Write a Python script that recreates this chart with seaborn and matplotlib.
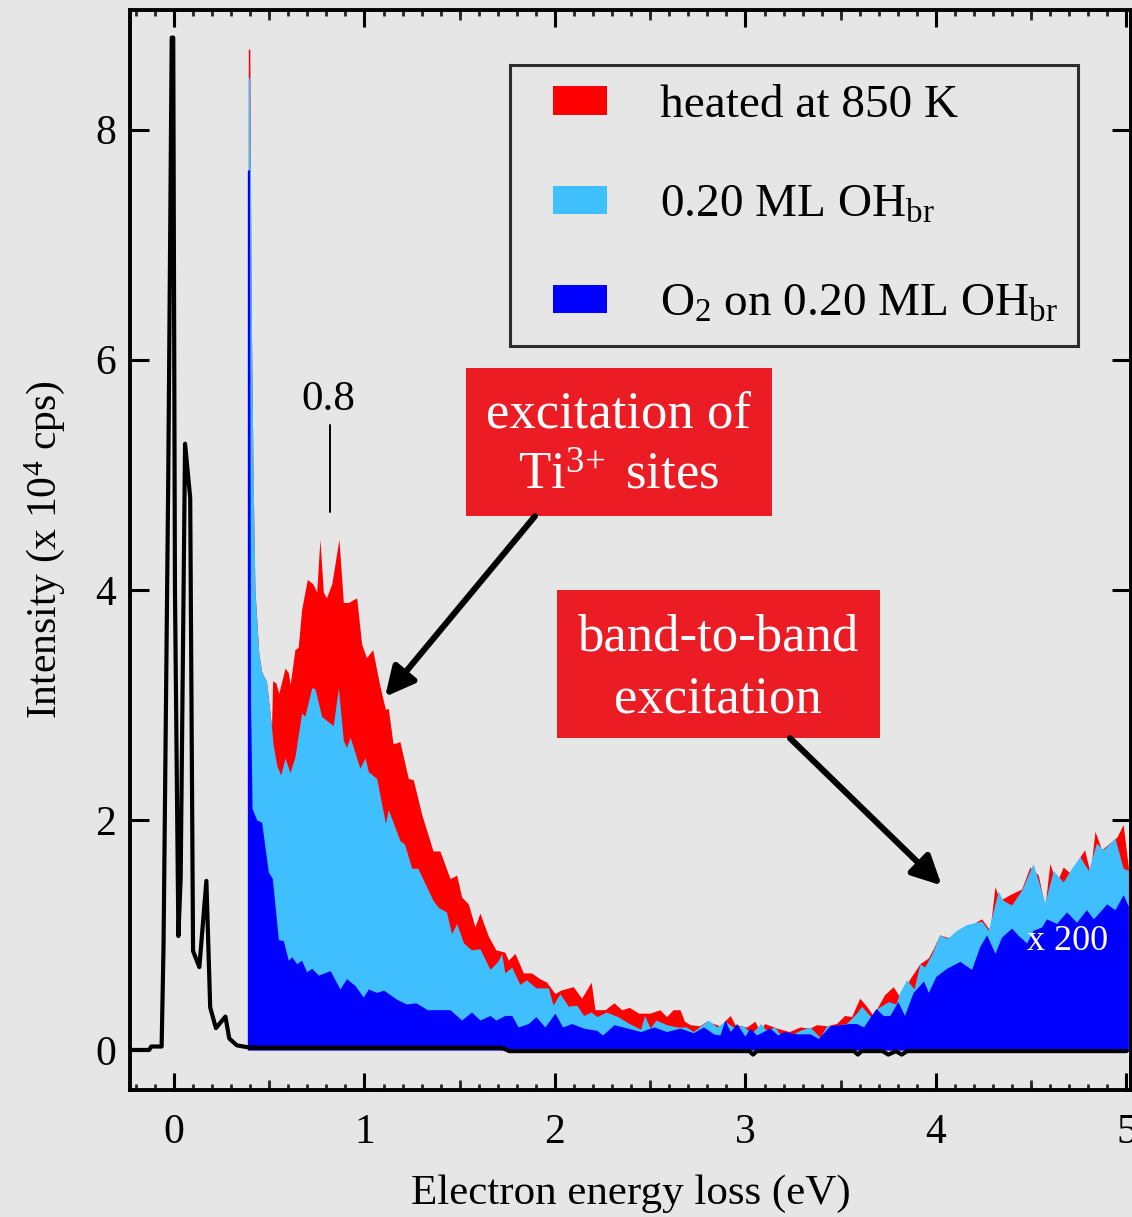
import numpy as np
import pandas as pd
import matplotlib
matplotlib.use("Agg")
import matplotlib.pyplot as plt
import seaborn as sns
from matplotlib.ticker import MultipleLocator, FixedLocator
from matplotlib.patches import Rectangle, Patch
from matplotlib.legend_handler import HandlerPatch

# ---------------- data ----------------
black_x = [-0.23, -0.13, -0.12, -0.065, -0.055, -0.03, -0.012, -0.004, 0.005, 0.023, 0.035,
           0.058, 0.085, 0.10, 0.133, 0.17, 0.19, 0.22, 0.27, 0.29, 0.33, 0.40,
           1.72, 1.76, 3.02, 3.04, 3.06, 3.57, 3.59, 3.61, 3.72, 3.75, 3.79, 3.82, 3.85, 4.98, 5.0]
black_y = [0.0, 0.0, 0.03, 0.03, 0.9, 5.0, 8.8, 8.8, 4.0, 0.99, 1.5,
           5.27, 4.8, 0.86, 0.72, 1.47, 0.37, 0.19, 0.29, 0.10, 0.04, 0.02,
           0.02, -0.01, -0.01, -0.04, -0.01, -0.01, -0.04, -0.01, -0.01, -0.04, -0.01, -0.04, -0.01, -0.01, -0.01]

heated_x = [0.39, 0.398, 0.405, 0.415, 0.425, 0.445, 0.46, 0.486, 0.512, 0.518, 0.535, 0.55, 0.583, 0.60,
            0.61, 0.635, 0.652, 0.67, 0.70, 0.73, 0.749, 0.766, 0.784, 0.80, 0.828, 0.866, 0.889, 0.915,
            0.959, 0.985, 1.01, 1.043, 1.08, 1.11, 1.125, 1.15, 1.186, 1.23, 1.256, 1.30, 1.36, 1.396,
            1.449, 1.484, 1.51, 1.545, 1.58, 1.606, 1.65, 1.69, 1.737, 1.755, 1.79, 1.834, 1.877, 1.92,
            1.956, 2.0, 2.03, 2.096, 2.14, 2.19, 2.21, 2.263, 2.31, 2.35, 2.39, 2.44, 2.50, 2.55, 2.586,
            2.62, 2.656, 2.68, 2.709, 2.76, 2.796, 2.866, 2.92, 2.945, 3.007, 3.05, 3.076, 3.10, 3.164,
            3.23, 3.286, 3.338, 3.373, 3.426, 3.478, 3.52, 3.557, 3.60, 3.636, 3.67, 3.73, 3.776, 3.81,
            3.864, 3.916, 3.96, 3.986, 4.02, 4.08, 4.126, 4.187, 4.24, 4.283, 4.31, 4.335, 4.388, 4.45,
            4.493, 4.537, 4.572, 4.598, 4.633, 4.668, 4.703, 4.73, 4.78, 4.81, 4.835, 4.87, 4.913, 4.95,
            4.983, 5.01]
heated_y = [8.70, 8.70, 6.5, 5.0, 4.0, 3.45, 3.29, 3.2, 2.81, 3.21, 3.19, 3.1, 3.32, 3.28,
            3.18, 3.48, 3.50, 3.83, 4.09, 4.05, 3.98, 4.44, 3.98, 3.93, 4.05, 4.44, 3.89, 3.89,
            3.93, 3.53, 3.41, 3.48, 3.17, 2.96, 2.97, 2.66, 2.68, 2.36, 2.35, 2.05, 1.73, 1.73,
            1.49, 1.52, 1.33, 1.27, 1.07, 1.19, 0.99, 0.87, 0.85, 0.78, 0.84, 0.67, 0.67, 0.62,
            0.59, 0.49, 0.52, 0.55, 0.45, 0.59, 0.35, 0.35, 0.41, 0.35, 0.37, 0.32, 0.32, 0.35, 0.29,
            0.35, 0.35, 0.25, 0.22, 0.21, 0.25, 0.21, 0.30, 0.22, 0.20, 0.25, 0.16, 0.23, 0.19,
            0.16, 0.20, 0.19, 0.22, 0.21, 0.23, 0.30, 0.29, 0.45, 0.38, 0.30, 0.48, 0.55, 0.46,
            0.62, 0.75, 0.80, 0.88, 1.0, 0.97, 1.04, 1.09, 1.14, 1.04, 1.42, 1.30, 1.35, 1.40,
            1.59, 1.52, 1.25, 1.62, 1.45, 1.59, 1.54, 1.61, 1.74, 1.54, 1.90, 1.74, 1.80, 1.85,
            1.96, 1.59]

oh_x = [0.39, 0.398, 0.405, 0.415, 0.425, 0.445, 0.46, 0.486, 0.512, 0.52, 0.54, 0.56, 0.583, 0.609,
        0.635, 0.67, 0.687, 0.723, 0.74, 0.775, 0.82, 0.836, 0.863, 0.889, 0.906, 0.924, 0.976, 1.003,
        1.02, 1.064, 1.11, 1.125, 1.186, 1.21, 1.248, 1.28, 1.36, 1.387, 1.43, 1.457, 1.484, 1.52,
        1.562, 1.606, 1.659, 1.70, 1.72, 1.737, 1.773, 1.816, 1.85, 1.90, 1.965, 1.99, 2.026, 2.07,
        2.114, 2.15, 2.19, 2.22, 2.27, 2.33, 2.39, 2.45, 2.47, 2.50, 2.53, 2.586, 2.64, 2.69, 2.726,
        2.805, 2.85, 2.892, 2.936, 2.99, 3.03, 3.08, 3.11, 3.155, 3.18, 3.25, 3.286, 3.339, 3.391,
        3.426, 3.46, 3.53, 3.583, 3.61, 3.662, 3.70, 3.75, 3.79, 3.81, 3.846, 3.885, 3.916, 3.94,
        3.977, 4.02, 4.06, 4.108, 4.16, 4.24, 4.275, 4.327, 4.353, 4.397, 4.45, 4.51, 4.572, 4.616,
        4.668, 4.712, 4.756, 4.80, 4.843, 4.878, 4.94, 4.983, 5.01]
oh_y = [8.45, 8.45, 6.5, 5.0, 4.0, 3.45, 3.29, 3.2, 2.81, 2.66, 2.47, 2.39, 2.54, 2.41,
        2.55, 2.93, 2.90, 3.15, 3.14, 2.90, 2.84, 2.82, 3.15, 2.69, 2.63, 2.72, 2.45, 2.54,
        2.42, 2.36, 1.97, 2.09, 1.82, 1.79, 1.58, 1.58, 1.30, 1.24, 1.20, 1.01, 1.10, 0.93,
        0.87, 0.88, 0.70, 0.77, 0.84, 0.67, 0.72, 0.57, 0.61, 0.54, 0.54, 0.39, 0.49, 0.38,
        0.39, 0.30, 0.33, 0.29, 0.33, 0.29, 0.23, 0.18, 0.30, 0.19, 0.26, 0.22, 0.20, 0.20, 0.16,
        0.26, 0.20, 0.25, 0.20, 0.21, 0.14, 0.23, 0.17, 0.20, 0.14, 0.14, 0.17, 0.20, 0.11,
        0.21, 0.21, 0.23, 0.32, 0.38, 0.28, 0.37, 0.42, 0.40, 0.50, 0.61, 0.53, 0.75, 0.72,
        0.83, 1.0, 0.97, 1.04, 1.09, 1.12, 1.04, 1.38, 1.30, 1.26, 1.39, 1.62, 1.28, 1.56,
        1.46, 1.58, 1.68, 1.56, 1.80, 1.74, 1.84, 1.58, 1.56]

o2_x = [0.385, 0.396, 0.402, 0.41, 0.434, 0.46, 0.495, 0.516, 0.548, 0.574, 0.60, 0.618, 0.644, 0.67,
        0.696, 0.723, 0.758, 0.82, 0.871, 0.906, 0.95, 0.994, 1.02, 1.064, 1.10, 1.17, 1.22, 1.27,
        1.33, 1.396, 1.449, 1.51, 1.562, 1.606, 1.659, 1.69, 1.737, 1.773, 1.807, 1.86, 1.90, 1.947,
        2.0, 2.04, 2.088, 2.15, 2.22, 2.25, 2.31, 2.38, 2.45, 2.52, 2.586, 2.656, 2.726, 2.78, 2.832,
        2.866, 2.892, 2.92, 2.954, 2.997, 3.024, 3.058, 3.128, 3.17, 3.20, 3.27, 3.339, 3.383, 3.443,
        3.496, 3.548, 3.583, 3.62, 3.685, 3.723, 3.758, 3.80, 3.835, 3.88, 3.935, 3.96, 4.0, 4.056,
        4.126, 4.187, 4.23, 4.266, 4.31, 4.344, 4.397, 4.43, 4.476, 4.51, 4.555, 4.58, 4.633, 4.686,
        4.738, 4.79, 4.826, 4.86, 4.896, 4.94, 4.983, 5.01]
o2_y = [7.65, 7.65, 3.0, 2.1, 2.0, 1.98, 1.55, 1.49, 0.96, 0.95, 0.78, 0.81, 0.75, 0.78,
        0.68, 0.71, 0.65, 0.69, 0.53, 0.62, 0.56, 0.46, 0.53, 0.50, 0.52, 0.44, 0.40, 0.41,
        0.35, 0.35, 0.35, 0.26, 0.33, 0.26, 0.30, 0.26, 0.30, 0.30, 0.20, 0.23, 0.29, 0.20,
        0.32, 0.20, 0.23, 0.19, 0.17, 0.13, 0.22, 0.19, 0.16, 0.20, 0.16, 0.19, 0.15, 0.20, 0.14,
        0.13, 0.26, 0.16, 0.23, 0.12, 0.19, 0.13, 0.19, 0.13, 0.16, 0.14, 0.14, 0.10, 0.21,
        0.22, 0.23, 0.23, 0.20, 0.36, 0.30, 0.30, 0.42, 0.30, 0.50, 0.60, 0.50, 0.64, 0.71,
        0.77, 0.70, 0.90, 1.0, 0.84, 0.98, 1.06, 1.0, 0.93, 1.04, 1.07, 1.14, 1.10, 1.20,
        1.11, 1.22, 1.14, 1.20, 1.27, 1.22, 1.35, 1.25]

series_labels = ["heated at 850 K", r"0.20 ML OH$_{\mathrm{br}}$", r"O$_2$ on 0.20 ML OH$_{\mathrm{br}}$"]
xticks = [0, 1, 2, 3, 4, 5]
yticks = [0, 2, 4, 6, 8]

# ---------------- style ----------------
BG = "#e6e6e6"
RED = "#ff0000"
LBLUE = "#40bfff"
BLUE = "#0000ff"
BOXRED = "#ec1c24"

sns.set_theme(style="ticks")
plt.rcParams['font.family'] = ['Liberation Serif', 'DejaVu Serif']
plt.rcParams['mathtext.fontset'] = 'custom'
plt.rcParams['mathtext.rm'] = 'Liberation Serif'
plt.rcParams['mathtext.it'] = 'Liberation Serif:italic'
plt.rcParams['mathtext.bf'] = 'Liberation Serif:bold'
plt.rcParams['axes.linewidth'] = 2.8

fig = plt.figure(figsize=(11.32, 12.17), dpi=100)
fig.patch.set_facecolor(BG)
ax = fig.add_axes([130 / 1132, 1 - 1090 / 1217, 1001 / 1132, 1080 / 1217])
ax.set_facecolor(BG)

colors = [RED, LBLUE, BLUE]
ax.fill_between(heated_x, 0, heated_y, color=RED, lw=0, zorder=2)
ax.fill_between(oh_x, 0, oh_y, color=LBLUE, lw=0, zorder=3)
ax.fill_between(o2_x, 0, o2_y, color=BLUE, lw=0, zorder=4)

df_black = pd.DataFrame({"x": black_x, "y": black_y})
sns.lineplot(data=df_black, x="x", y="y", ax=ax, color="black", lw=3.0,
             sort=False, estimator=None, zorder=5)

ax.set_xlim(-0.231, 5.024)
ax.set_ylim(-0.348, 9.04)
ax.set_xticks(xticks)
ax.set_yticks(yticks)
ax.xaxis.set_minor_locator(MultipleLocator(0.1))
ax.tick_params(axis='x', which='major', direction='in', length=12, width=2.2,
               top=True, bottom=True, labelsize=30, pad=17, colors='black')
ax.tick_params(axis='x', which='minor', direction='in', length=4.5, width=2.0,
               top=True, bottom=True)
ax.tick_params(axis='y', which='major', direction='in', length=14, width=2.2,
               left=True, right=True, labelsize=30, pad=10, colors='black')
for s in ax.spines.values():
    s.set_color('black')

half = [0.5, 1.5, 2.5, 3.5, 4.5]
for loc in ['bottom', 'top']:
    sec = ax.secondary_xaxis(loc)
    sec.xaxis.set_major_locator(FixedLocator(half))
    sec.tick_params(direction='in', length=7.5, width=2.0, labelbottom=False, labeltop=False)
    for s in sec.spines.values():
        s.set_visible(False)

ax.set_xlabel("Electron energy loss (eV)", fontsize=31, labelpad=16, color='black')
ax.set_ylabel("Intensity (x 10$^4$ cps)", fontsize=30, labelpad=20, color='black')

LEG_FS = 34
SWATCH = 1.15  # swatch width in font-size units


def inset_swatch(legend, orig_handle, xdescent, ydescent, width, height, fontsize):
    w = SWATCH * fontsize
    return Rectangle((-xdescent + width - w, -ydescent), w, height)


handles = [Patch(facecolor=c, edgecolor='none', lw=0) for c in colors]
leg = ax.legend(handles, series_labels, loc='upper left', bbox_to_anchor=(0.3796, 0.949),
                frameon=True, fancybox=False, edgecolor='black', facecolor='none',
                fontsize=LEG_FS, handlelength=1.64, handleheight=0.55, handletextpad=1.12,
                labelspacing=1.2, borderpad=0.42, borderaxespad=0,
                handler_map={Patch: HandlerPatch(patch_func=inset_swatch)})
leg.get_frame().set_linewidth(2.2)
for t in leg.get_texts():
    t.set_color('black')

# peak marker
ax.plot([0.82, 0.82], [4.68, 5.43], color='black', lw=1.4, zorder=6)
ax.text(0.81, 5.65, "0.8", fontsize=31, ha='center', va='center', color='black')

# annotation boxes
ax.add_patch(Rectangle((1.533, 4.643), 3.139 - 1.533, 5.93 - 4.643, color=BOXRED, lw=0, zorder=6))
ax.text(2.336, 5.255, "excitation of\nTi$^{3\\!+}$ sites", fontsize=38, color='white',
        ha='center', va='center', linespacing=1.38, zorder=7)
ax.add_patch(Rectangle((2.01, 2.713), 3.706 - 2.01, 4.0 - 2.713, color=BOXRED, lw=0, zorder=6))
ax.text(2.856, 3.32, "band-to-band\nexcitation", fontsize=38, color='white',
        ha='center', va='center', linespacing=1.38, zorder=7)

arrow = dict(arrowstyle='-|>', mutation_scale=44, lw=4.4, color='black', shrinkA=0, shrinkB=0)
ax.annotate("", xy=(1.108, 3.07), xytext=(1.895, 4.64), arrowprops=arrow, zorder=7)
ax.annotate("", xy=(4.03, 1.43), xytext=(3.234, 2.71), arrowprops=arrow, zorder=7)

ax.text(4.693, 0.94, "x 200", fontsize=26, color='white', ha='center', va='center', zorder=7)

fig.savefig("out.png", dpi=100, facecolor=BG)
